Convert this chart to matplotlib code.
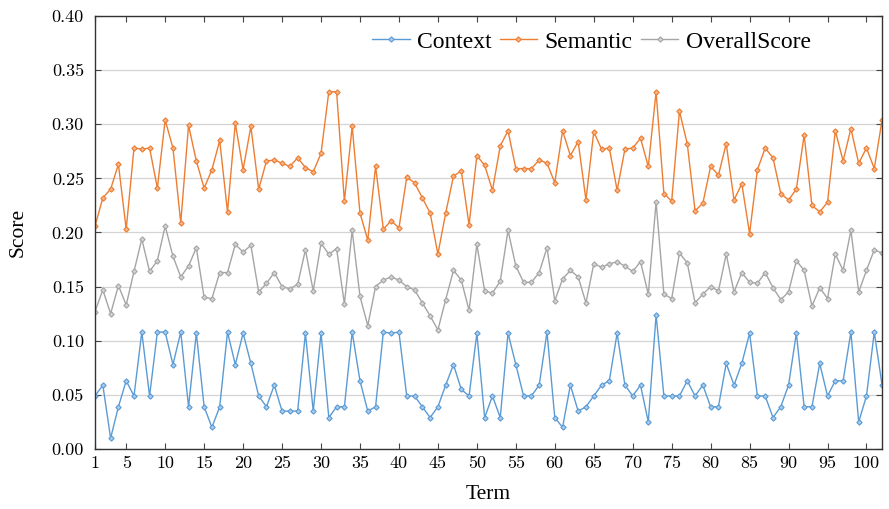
import numpy as np
import matplotlib.pyplot as plt

# values, term 1..102
context = [0.049, 0.059, 0.010, 0.039, 0.063, 0.049, 0.108, 0.049, 0.108, 0.108,
           0.078, 0.108, 0.039, 0.107, 0.039, 0.020, 0.039, 0.108, 0.078, 0.107,
           0.079, 0.049, 0.039, 0.059, 0.035, 0.035, 0.035, 0.107, 0.035, 0.107,
           0.029, 0.039, 0.039, 0.108, 0.063, 0.035, 0.039, 0.108, 0.107, 0.108,
           0.049, 0.049, 0.039, 0.029, 0.039, 0.059, 0.078, 0.055, 0.049, 0.107,
           0.029, 0.049, 0.029, 0.107, 0.078, 0.049, 0.049, 0.059, 0.108, 0.029,
           0.020, 0.059, 0.035, 0.039, 0.049, 0.059, 0.063, 0.107, 0.059, 0.049,
           0.059, 0.025, 0.124, 0.049, 0.049, 0.049, 0.063, 0.049, 0.059, 0.039,
           0.039, 0.079, 0.059, 0.079, 0.107, 0.049, 0.049, 0.029, 0.039, 0.059,
           0.107, 0.039, 0.039, 0.079, 0.049, 0.063, 0.063, 0.108, 0.025, 0.049,
           0.108, 0.059]

semantic = [0.206, 0.232, 0.240, 0.263, 0.203, 0.278, 0.277, 0.278, 0.241, 0.304,
            0.278, 0.209, 0.299, 0.266, 0.241, 0.258, 0.285, 0.219, 0.301, 0.258,
            0.298, 0.240, 0.266, 0.267, 0.264, 0.261, 0.269, 0.260, 0.256, 0.273,
            0.330, 0.330, 0.229, 0.298, 0.218, 0.193, 0.261, 0.203, 0.211, 0.204,
            0.251, 0.246, 0.232, 0.218, 0.180, 0.218, 0.252, 0.257, 0.207, 0.271,
            0.262, 0.239, 0.280, 0.294, 0.259, 0.259, 0.259, 0.267, 0.264, 0.246,
            0.294, 0.271, 0.284, 0.230, 0.293, 0.277, 0.278, 0.239, 0.277, 0.278,
            0.287, 0.261, 0.330, 0.236, 0.229, 0.312, 0.282, 0.220, 0.227, 0.261,
            0.253, 0.282, 0.230, 0.245, 0.199, 0.258, 0.278, 0.269, 0.236, 0.230,
            0.240, 0.290, 0.225, 0.219, 0.228, 0.294, 0.266, 0.296, 0.264, 0.278,
            0.259, 0.304]

overall = [0.127, 0.147, 0.125, 0.151, 0.133, 0.164, 0.194, 0.164, 0.174, 0.206,
           0.178, 0.159, 0.169, 0.186, 0.140, 0.139, 0.163, 0.163, 0.189, 0.182,
           0.188, 0.145, 0.153, 0.163, 0.150, 0.148, 0.152, 0.184, 0.146, 0.190,
           0.180, 0.185, 0.134, 0.202, 0.141, 0.114, 0.150, 0.156, 0.159, 0.156,
           0.150, 0.147, 0.135, 0.123, 0.110, 0.138, 0.165, 0.156, 0.128, 0.189,
           0.146, 0.144, 0.155, 0.202, 0.169, 0.154, 0.154, 0.163, 0.186, 0.137,
           0.157, 0.165, 0.159, 0.135, 0.171, 0.168, 0.171, 0.173, 0.169, 0.164,
           0.173, 0.143, 0.228, 0.143, 0.139, 0.181, 0.172, 0.135, 0.143, 0.150,
           0.146, 0.180, 0.145, 0.163, 0.154, 0.153, 0.163, 0.149, 0.138, 0.145,
           0.174, 0.165, 0.132, 0.149, 0.139, 0.180, 0.165, 0.202, 0.145, 0.165,
           0.184, 0.181]

terms = np.arange(1, len(context) + 1)
xticks = [1] + list(range(5, 101, 5))
yticks = np.arange(0, 0.41, 0.05)

series = [("Context", context, "#5b9bd5", "#a9cbeb"),
          ("Semantic", semantic, "#ed7d31", "#f6b48a"),
          ("OverallScore", overall, "#a5a5a5", "#d2d2d2")]

serif = ["Liberation Serif", "DejaVu Serif"]

fig = plt.figure(figsize=(8.89, 5.09), dpi=100)
ax = fig.add_axes([0.1069, 0.1179, 0.8853, 0.8507])

for name, vals, col, face in series:
    ax.plot(terms, vals, color=col, lw=1.0, marker="D", ms=2.7,
            mfc=face, mec=col, mew=0.8, label=name)

ax.set_xlim(1, 102)
ax.set_ylim(0, 0.40)
ax.set_xticks(xticks)
ax.set_yticks(yticks)
ax.set_yticklabels(["%.2f" % v for v in yticks])
ax.grid(axis="y", color="#d4d4d4", lw=0.9)
ax.set_axisbelow(True)

ax.tick_params(direction="in", top=True, right=True, length=4, width=0.8,
               color="#444444", labelsize=13)
ax.tick_params(axis="y", pad=8)
ax.tick_params(axis="x", pad=5)
for lab in ax.get_xticklabels() + ax.get_yticklabels():
    lab.set_fontfamily("cmr10")

for sp in ax.spines.values():
    sp.set_linewidth(1.0)
    sp.set_color("#333333")

ax.set_xlabel("Term", fontsize=15.5, family=serif)
ax.set_ylabel("Score", fontsize=15.5, family=serif)
ax.xaxis.set_label_coords(0.5, -0.084)
ax.yaxis.set_label_coords(-0.086, 0.5)

fig.legend(loc="center", bbox_to_anchor=(0.665, 0.9175), ncol=3, frameon=False,
           prop={"family": serif, "size": 17}, handlelength=1.6,
           handletextpad=0.3, columnspacing=0.35, borderpad=0.2)

fig.savefig("out.png", dpi=100)
